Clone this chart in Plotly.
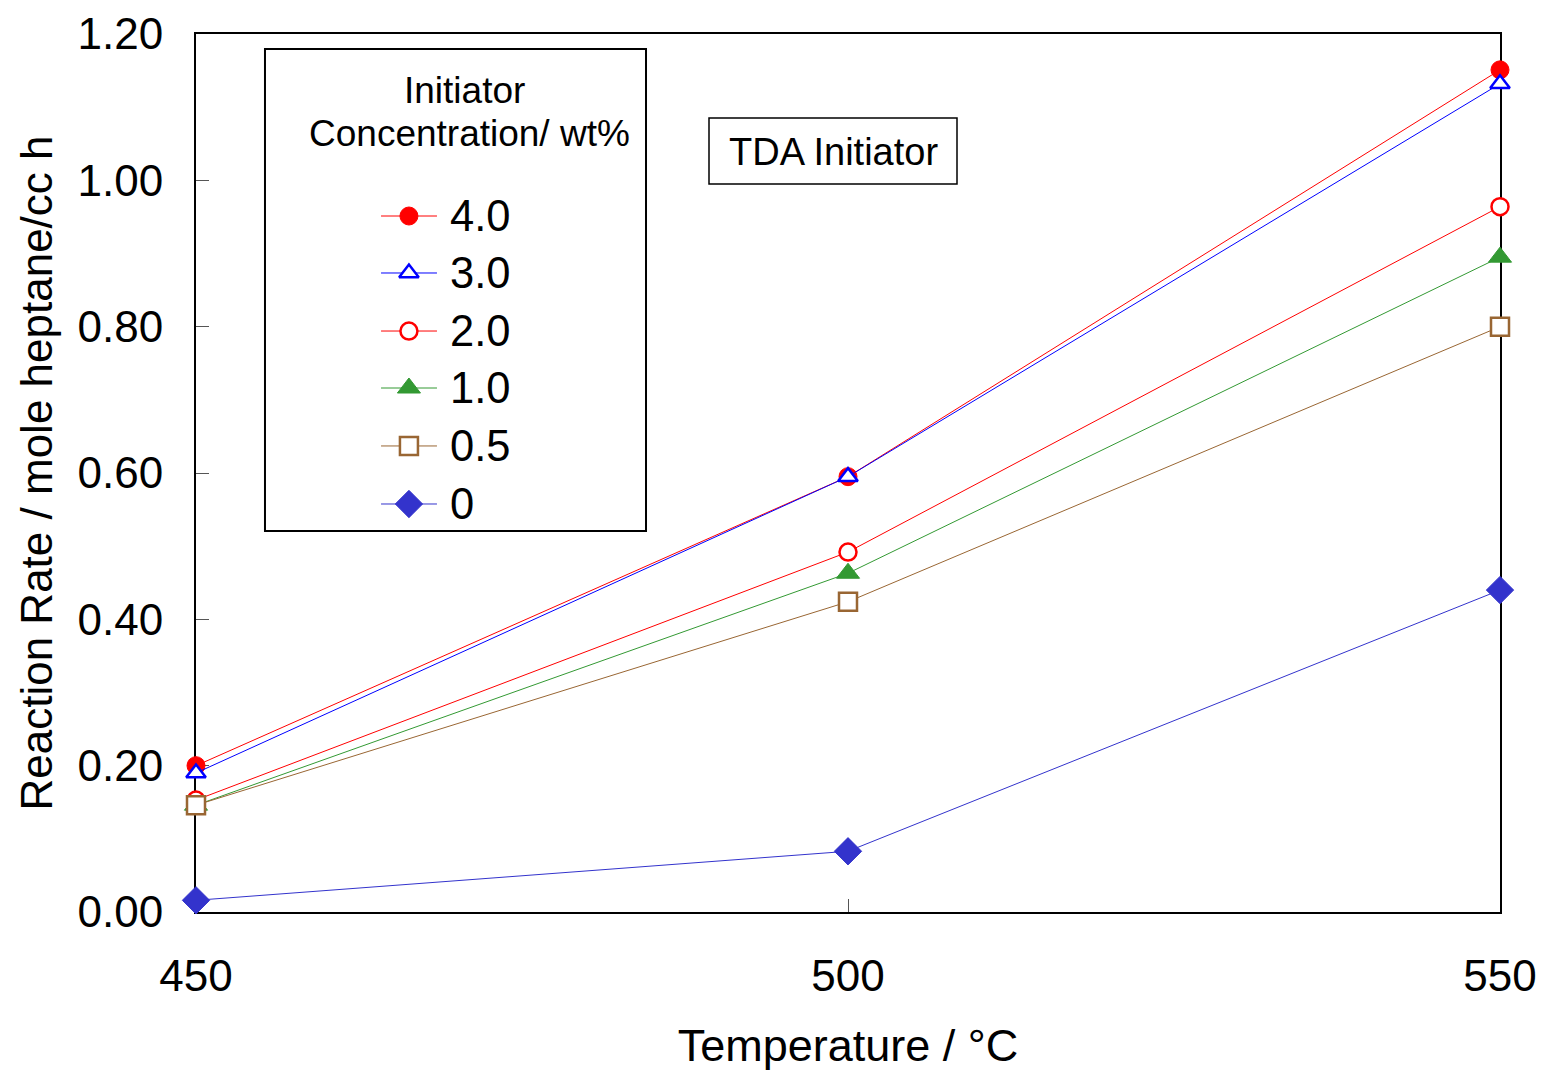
import plotly.graph_objects as go

temperature = [450, 500, 550]
labels = ["4.0", "3.0", "2.0", "1.0", "0.5", "0"]
rate_4_0 = [0.200, 0.595, 1.151]
rate_3_0 = [0.190, 0.595, 1.132]
rate_2_0 = [0.153, 0.492, 0.964]
rate_1_0 = [0.146, 0.463, 0.895]
rate_0_5 = [0.146, 0.424, 0.800]
rate_0 = [0.016, 0.083, 0.440]
series_values = [rate_4_0, rate_3_0, rate_2_0, rate_1_0, rate_0_5, rate_0]

FONT = "Liberation Sans, Arial, sans-serif"

styles = [
    dict(color="#FF0000", symbol="circle", fill="#FF0000", size=18, lw=1),
    dict(color="#0000FF", symbol="triangle-up", fill="#FFFFFF", size=17, lw=2.5),
    dict(color="#FF0000", symbol="circle", fill="#FFFFFF", size=17, lw=2.5),
    dict(color="#339933", symbol="triangle-up", fill="#339933", size=20, lw=1),
    dict(color="#996633", symbol="square", fill="#FFFFFF", size=18, lw=2.5),
    dict(color="#3333CC", symbol="diamond", fill="#3333CC", size=21, lw=1),
]

fig = go.Figure()
for lab, vals, st in zip(labels, series_values, styles):
    fig.add_trace(go.Scatter(
        x=temperature, y=vals, mode="lines+markers", name=lab,
        line=dict(color=st["color"], width=1),
        marker=dict(symbol=st["symbol"], size=st["size"], color=st["fill"],
                    line=dict(color=st["color"], width=st["lw"])),
        cliponaxis=False, showlegend=False,
    ))

# manual legend (paper-fraction overlay axes)
row_y = [0.7927, 0.7278, 0.6617, 0.5968, 0.5308, 0.4647]
for lab, st, yy in zip(labels, styles, row_y):
    fig.add_trace(go.Scatter(
        x=[0.1419, 0.1848], y=[yy, yy], mode="lines", xaxis="x2", yaxis="y2",
        line=dict(color=st["color"], width=1), showlegend=False, hoverinfo="skip",
    ))
    fig.add_trace(go.Scatter(
        x=[0.1633], y=[yy], mode="markers", xaxis="x2", yaxis="y2",
        marker=dict(symbol=st["symbol"], size=st["size"], color=st["fill"],
                    line=dict(color=st["color"], width=st["lw"])),
        showlegend=False, hoverinfo="skip", cliponaxis=False,
    ))
    fig.add_annotation(x=0.1933, y=yy, xref="paper", yref="paper", text=lab,
                       showarrow=False, xanchor="left", yanchor="middle",
                       font=dict(family=FONT, size=43.5, color="black"))

fig.add_shape(type="rect", xref="paper", yref="paper",
              x0=0.0529, x1=0.3451, y0=0.434, y1=0.983,
              line=dict(color="black", width=2), fillcolor="rgba(0,0,0,0)")
fig.add_annotation(x=(464.5 - 196) / 1304, y=(912 - 90) / 878, xref="paper", yref="paper",
                   text="Initiator", showarrow=False,
                   xanchor="center", yanchor="middle",
                   font=dict(family=FONT, size=37, color="black"))
fig.add_annotation(x=(469.5 - 196) / 1304, y=(912 - 133) / 878, xref="paper", yref="paper",
                   text="Concentration/ wt%", showarrow=False,
                   xanchor="center", yanchor="middle",
                   font=dict(family=FONT, size=37, color="black"))

# TDA box
fig.add_annotation(x=(833 - 196) / 1304, y=(912 - 152) / 878, xref="paper", yref="paper",
                   text="TDA Initiator", showarrow=False,
                   xanchor="center", yanchor="middle",
                   font=dict(family=FONT, size=38, color="black"))
fig.add_shape(type="rect", xref="paper", yref="paper",
              x0=(709 - 196) / 1304, x1=(957 - 196) / 1304,
              y0=(912 - 184) / 878, y1=(912 - 118) / 878,
              line=dict(color="black", width=1.5), fillcolor="rgba(0,0,0,0)")

fig.update_layout(
    width=1541, height=1071,
    margin=dict(l=196, r=41, t=34, b=159, autoexpand=False),
    plot_bgcolor="white", paper_bgcolor="white",
    font=dict(family=FONT, color="black"),
    xaxis=dict(
        range=[450, 550], tickvals=temperature, ticktext=[str(t) for t in temperature],
        ticks="inside", ticklen=13, tickcolor="#555555", tickwidth=1,
        showline=True, linecolor="black", linewidth=2, mirror=True,
        showgrid=False, zeroline=False, layer="below traces", automargin=False,
        tickfont=dict(family=FONT, size=44, color="black"),
        ticklabelstandoff=24,
        title=dict(text="Temperature / °C", font=dict(family=FONT, size=45, color="black"),
                   standoff=34),
    ),
    yaxis=dict(
        range=[0, 1.2], dtick=0.2, tick0=0, tickformat=".2f",
        ticks="inside", ticklen=13, tickcolor="#555555", tickwidth=1,
        showline=True, linecolor="black", linewidth=2, mirror=True,
        showgrid=False, zeroline=False, layer="below traces", automargin=False,
        tickfont=dict(family=FONT, size=44, color="black"),
        ticklabelstandoff=22,
        title=dict(text="Reaction Rate / mole heptane/cc h",
                   font=dict(family=FONT, size=44, color="black"), standoff=11),
    ),
    xaxis2=dict(overlaying="x", range=[0, 1], visible=False),
    yaxis2=dict(overlaying="y", range=[0, 1], visible=False),
)

fig.write_html("out.html")
